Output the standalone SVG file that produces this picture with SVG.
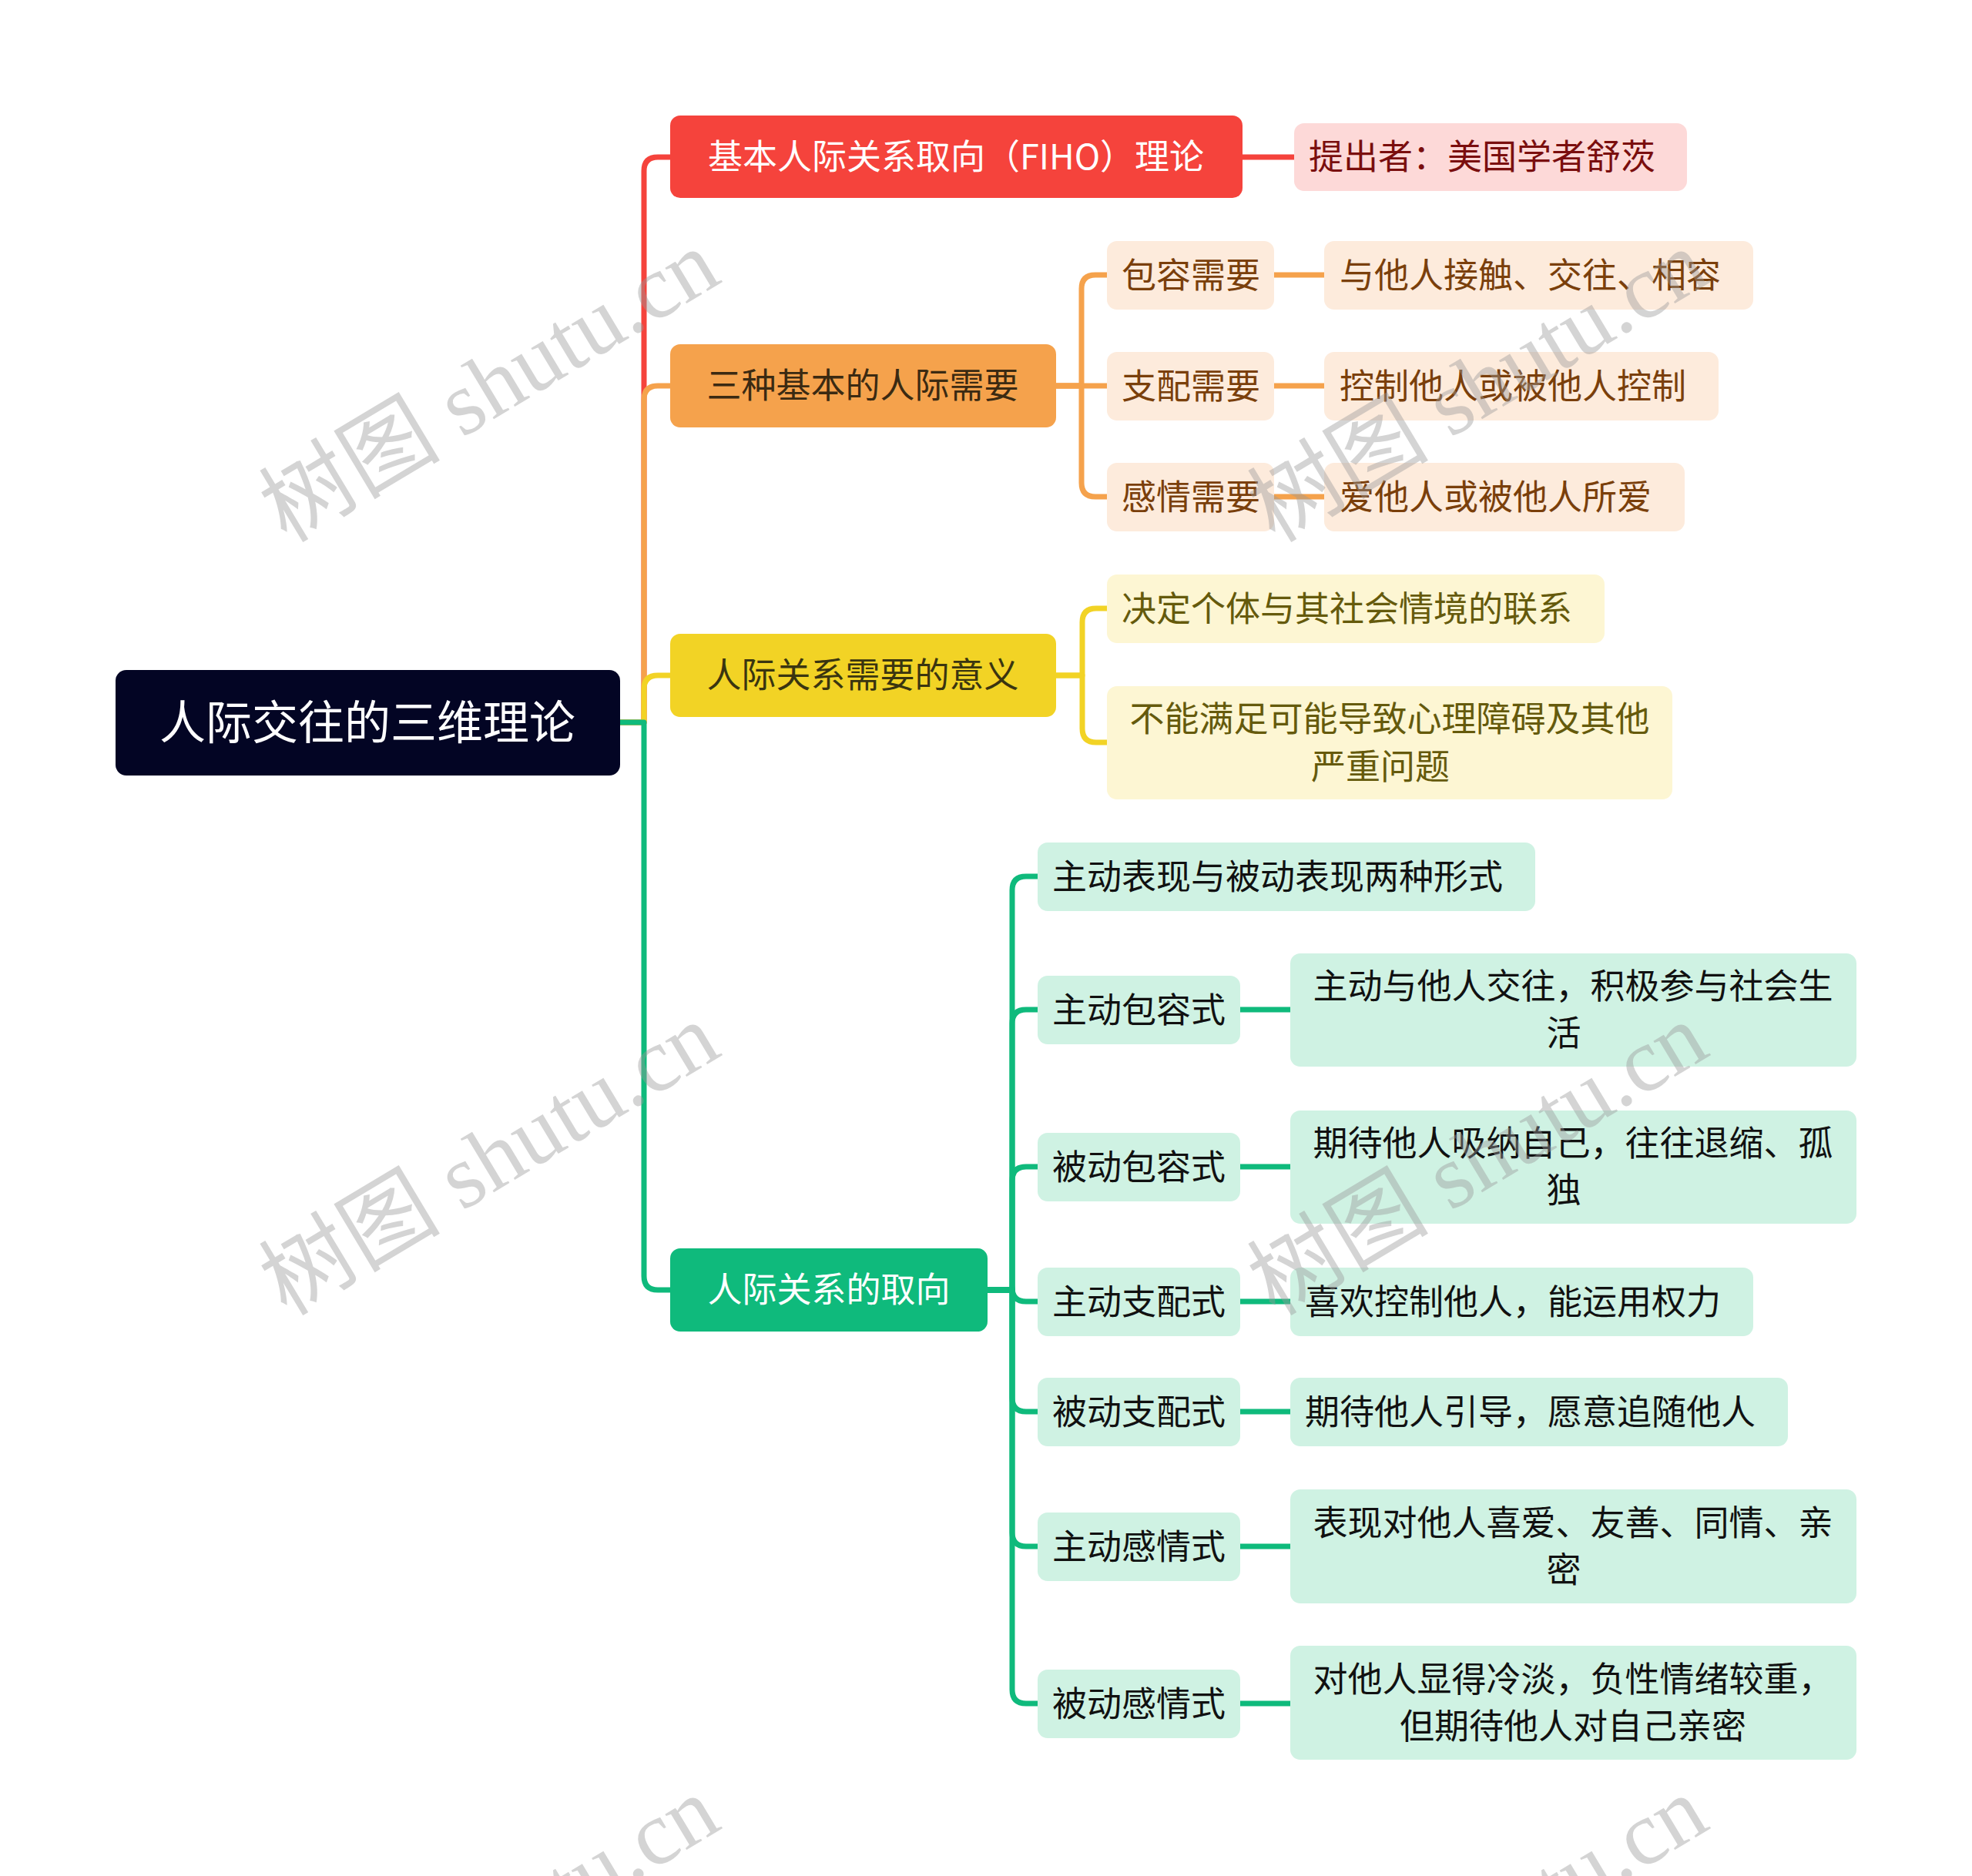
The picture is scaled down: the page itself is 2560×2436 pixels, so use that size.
<svg xmlns="http://www.w3.org/2000/svg" width="2560" height="2436" viewBox="0 0 2560 2436">
<style>
text{font-family:"Noto Sans CJK SC","Noto Sans",sans-serif;font-size:45px}
.c{fill:none;stroke-width:7;stroke-linecap:butt;stroke-linejoin:round}
.mid{text-anchor:middle}
.wm{font-family:"Liberation Serif","Noto Sans CJK SC",serif;font-size:118px;fill:#9a9a9a;opacity:0.42}
</style>
<rect width="2560" height="2436" fill="#ffffff"/>
<g id="connectors">
  <path class="c" stroke="#f5433c" d="M805 938 H836 V222 Q836 204 854 204 H870"/>
  <path class="c" stroke="#f5a24c" d="M805 938 H836 V519 Q836 501 854 501 H870"/>
  <path class="c" stroke="#f2d325" d="M805 938 H836 V895 Q836 877 854 877 H870"/>
  <path class="c" stroke="#0fba7c" d="M805 938 H836 V1657 Q836 1675 854 1675 H870"/>
  <path class="c" stroke="#f5433c" d="M1613 204 H1680"/>
  <path class="c" stroke="#f5a24c" d="M1371 501 H1404 V375 Q1404 357 1422 357 H1437"/>
  <path class="c" stroke="#f5a24c" d="M1371 501 H1437"/>
  <path class="c" stroke="#f5a24c" d="M1371 501 H1404 V627 Q1404 645 1422 645 H1437"/>
  <path class="c" stroke="#f5a24c" d="M1654 357 H1719 M1654 501 H1719 M1654 645 H1719"/>
  <path class="c" stroke="#f2d325" d="M1371 877 H1405 V808 Q1405 790 1423 790 H1437"/>
  <path class="c" stroke="#f2d325" d="M1371 877 H1405 V946 Q1405 964 1423 964 H1437"/>
  <path class="c" stroke="#0fba7c" d="M1282 1675 H1314 V1156 Q1314 1138 1332 1138 H1347"/>
  <path class="c" stroke="#0fba7c" d="M1282 1675 H1314 V1329 Q1314 1311 1332 1311 H1347"/>
  <path class="c" stroke="#0fba7c" d="M1282 1675 H1314 V1533 Q1314 1515 1332 1515 H1347"/>
  <path class="c" stroke="#0fba7c" d="M1282 1675 H1314 V1672 Q1314 1690 1332 1690 H1347"/>
  <path class="c" stroke="#0fba7c" d="M1282 1675 H1314 V1815 Q1314 1833 1332 1833 H1347"/>
  <path class="c" stroke="#0fba7c" d="M1282 1675 H1314 V1990 Q1314 2008 1332 2008 H1347"/>
  <path class="c" stroke="#0fba7c" d="M1282 1675 H1314 V2194 Q1314 2212 1332 2212 H1347"/>
  <path class="c" stroke="#0fba7c" d="M1610 1311 H1675 M1610 1515 H1675 M1610 1690 H1675 M1610 1833 H1675 M1610 2008 H1675 M1610 2212 H1675"/>
</g>
<g id="root"><rect x="150" y="870" width="655" height="137" rx="14" fill="#030524"/><text class="mid" x="477" y="960" fill="#ffffff" style="font-size:60px">人际交往的三维理论</text></g>
<g id="n-fiho"><rect x="870" y="150" width="743" height="107" rx="13" fill="#f5433c"/><text class="mid" x="1241" y="220" fill="#ffffff">基本人际关系取向（FIHO）理论</text></g>
<g id="n-fiho-1"><rect x="1680" y="160" width="510" height="88" rx="13" fill="#fdd9d8"/><text x="1699" y="220" fill="#7a0e0e">提出者：美国学者舒茨</text></g>
<g id="n-needs"><rect x="870" y="447" width="501" height="108" rx="13" fill="#f5a24c"/><text class="mid" x="1120" y="517" fill="#3b2a12">三种基本的人际需要</text></g>
<g id="n-needs-1"><rect x="1437" y="313" width="217" height="89" rx="13" fill="#fdebdc"/><text x="1456" y="374" fill="#7a3f0b">包容需要</text></g>
<g id="n-needs-2"><rect x="1437" y="457" width="217" height="89" rx="13" fill="#fdebdc"/><text x="1456" y="518" fill="#7a3f0b">支配需要</text></g>
<g id="n-needs-3"><rect x="1437" y="601" width="217" height="89" rx="13" fill="#fdebdc"/><text x="1456" y="662" fill="#7a3f0b">感情需要</text></g>
<g id="n-needs-1a"><rect x="1719" y="313" width="557" height="89" rx="13" fill="#fdebdc"/><text x="1739" y="374" fill="#7a3f0b">与他人接触、交往、相容</text></g>
<g id="n-needs-2a"><rect x="1719" y="457" width="512" height="89" rx="13" fill="#fdebdc"/><text x="1739" y="518" fill="#7a3f0b">控制他人或被他人控制</text></g>
<g id="n-needs-3a"><rect x="1719" y="601" width="468" height="89" rx="13" fill="#fdebdc"/><text x="1739" y="662" fill="#7a3f0b">爱他人或被他人所爱</text></g>
<g id="n-meaning"><rect x="870" y="823" width="501" height="108" rx="13" fill="#f2d325"/><text class="mid" x="1120" y="893" fill="#3a3510">人际关系需要的意义</text></g>
<g id="n-meaning-1"><rect x="1437" y="746" width="646" height="89" rx="13" fill="#fdf6d3"/><text x="1456" y="807" fill="#655a0c">决定个体与其社会情境的联系</text></g>
<g id="n-meaning-2"><rect x="1437" y="891" width="734" height="147" rx="13" fill="#fdf6d3"/><text class="mid" fill="#655a0c"><tspan x="1804" y="950">不能满足可能导致心理障碍及其他</tspan><tspan x="1792" y="1012">严重问题</tspan></text></g>
<g id="n-orient"><rect x="870" y="1621" width="412" height="108" rx="13" fill="#0fba7c"/><text class="mid" x="1076" y="1691" fill="#ffffff">人际关系的取向</text></g>
<g id="n-orient-0"><rect x="1347" y="1094" width="646" height="89" rx="13" fill="#cff2e3"/><text x="1366" y="1155" fill="#111111">主动表现与被动表现两种形式</text></g>
<g id="n-orient-1"><rect x="1347" y="1267" width="263" height="89" rx="13" fill="#cff2e3"/><text x="1366" y="1328" fill="#111111">主动包容式</text></g>
<g id="n-orient-2"><rect x="1347" y="1471" width="263" height="89" rx="13" fill="#cff2e3"/><text x="1366" y="1532" fill="#111111">被动包容式</text></g>
<g id="n-orient-3"><rect x="1347" y="1646" width="263" height="89" rx="13" fill="#cff2e3"/><text x="1366" y="1707" fill="#111111">主动支配式</text></g>
<g id="n-orient-4"><rect x="1347" y="1789" width="263" height="89" rx="13" fill="#cff2e3"/><text x="1366" y="1850" fill="#111111">被动支配式</text></g>
<g id="n-orient-5"><rect x="1347" y="1964" width="263" height="89" rx="13" fill="#cff2e3"/><text x="1366" y="2025" fill="#111111">主动感情式</text></g>
<g id="n-orient-6"><rect x="1347" y="2168" width="263" height="89" rx="13" fill="#cff2e3"/><text x="1366" y="2229" fill="#111111">被动感情式</text></g>
<g id="n-orient-1a"><rect x="1675" y="1238" width="735" height="147" rx="13" fill="#cff2e3"/><text class="mid" fill="#111111"><tspan x="2042" y="1297">主动与他人交往，积极参与社会生</tspan><tspan x="2030" y="1358">活</tspan></text></g>
<g id="n-orient-2a"><rect x="1675" y="1442" width="735" height="147" rx="13" fill="#cff2e3"/><text class="mid" fill="#111111"><tspan x="2042" y="1501">期待他人吸纳自己，往往退缩、孤</tspan><tspan x="2030" y="1562">独</tspan></text></g>
<g id="n-orient-3a"><rect x="1675" y="1646" width="601" height="89" rx="13" fill="#cff2e3"/><text x="1694" y="1707" fill="#111111">喜欢控制他人，能运用权力</text></g>
<g id="n-orient-4a"><rect x="1675" y="1789" width="646" height="89" rx="13" fill="#cff2e3"/><text x="1694" y="1850" fill="#111111">期待他人引导，愿意追随他人</text></g>
<g id="n-orient-5a"><rect x="1675" y="1934" width="735" height="148" rx="13" fill="#cff2e3"/><text class="mid" fill="#111111"><tspan x="2042" y="1994">表现对他人喜爱、友善、同情、亲</tspan><tspan x="2030" y="2055">密</tspan></text></g>
<g id="n-orient-6a"><rect x="1675" y="2137" width="735" height="148" rx="13" fill="#cff2e3"/><text class="mid" fill="#111111"><tspan x="2042" y="2197">对他人显得冷淡，负性情绪较重，</tspan><tspan x="2042" y="2258">但期待他人对自己亲密</tspan></text></g>
<g id="watermark">
  <text class="wm" transform="translate(372 706) rotate(-31)">树图 shutu.cn</text>
  <text class="wm" transform="translate(1655 706) rotate(-31)">树图 shutu.cn</text>
  <text class="wm" transform="translate(372 1710) rotate(-31)">树图 shutu.cn</text>
  <text class="wm" transform="translate(1655 1710) rotate(-31)">树图 shutu.cn</text>
  <text class="wm" transform="translate(372 2714) rotate(-31)">树图 shutu.cn</text>
  <text class="wm" transform="translate(1655 2714) rotate(-31)">树图 shutu.cn</text>
</g>
</svg>
